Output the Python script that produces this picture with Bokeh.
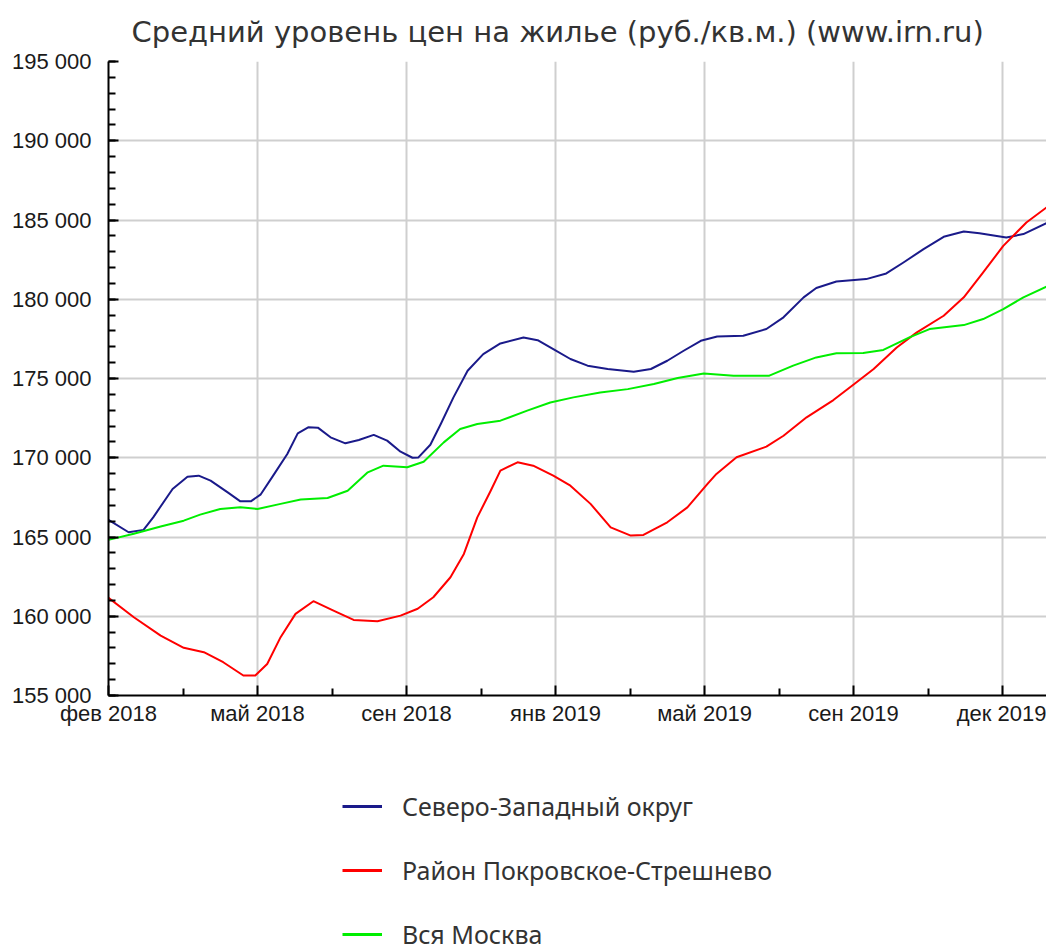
from bokeh.plotting import figure
from bokeh.models import Range1d, FixedTicker, Legend, LegendItem
from bokeh.layouts import column
from bokeh.embed import file_html
from bokeh.resources import INLINE

# ---- data (x in axis-step units: 0 = "фев 2018", each major tick = 2 units) ----
x_nw = [0, 0.27, 0.47, 0.60, 0.86, 1.06, 1.21, 1.37, 1.60, 1.77, 1.91, 2.04, 2.21, 2.40, 2.54,
        2.68, 2.81, 2.98, 3.18, 3.36, 3.56, 3.74, 3.92, 4.08, 4.16, 4.32, 4.46, 4.63, 4.82,
        5.03, 5.26, 5.57, 5.76, 5.97, 6.20, 6.43, 6.70, 7.05, 7.28, 7.50, 7.72, 7.95, 8.17,
        8.52, 8.83, 9.06, 9.33, 9.50, 9.77, 10.17, 10.44, 10.67, 10.94, 11.21, 11.48, 11.69,
        12.05, 12.28, 12.59]
y_nw = [166080, 165300, 165450, 166240, 168030, 168800, 168870, 168560, 167820, 167250, 167250,
        167670, 168870, 170240, 171540, 171920, 171900, 171290, 170910, 171120, 171440, 171080,
        170380, 170000, 170020, 170820, 172130, 173810, 175490, 176540, 177210, 177590, 177420,
        176860, 176230, 175810, 175600, 175430, 175600, 176120, 176750, 177380, 177650, 177700,
        178120, 178860, 180120, 180710, 181120, 181270, 181630, 182320, 183160, 183940, 184270,
        184170, 183900, 184110, 184800]

x_ps = [0, 0.34, 0.70, 1.01, 1.28, 1.54, 1.81, 1.97, 2.13, 2.31, 2.51, 2.75, 3.02, 3.29, 3.61,
        3.92, 4.15, 4.36, 4.59, 4.77, 4.95, 5.13, 5.26, 5.49, 5.70, 5.97, 6.20, 6.47, 6.74,
        7.01, 7.18, 7.50, 7.77, 8.04, 8.16, 8.43, 8.83, 9.06, 9.37, 9.73, 10.01, 10.27, 10.58,
        10.85, 11.21, 11.48, 11.74, 12.01, 12.32, 12.59]
y_ps = [161160, 159940, 158780, 158010, 157730, 157100, 156260, 156260, 156990, 158680, 160150,
        160950, 160360, 159770, 159690, 160040, 160470, 161200, 162460, 163930, 166240, 167920,
        169190, 169710, 169500, 168870, 168240, 167090, 165610, 165090, 165130, 165930, 166870,
        168350, 168980, 170030, 170700, 171390, 172550, 173640, 174650, 175600, 176960, 177910,
        178960, 180120, 181690, 183370, 184840, 185790]

x_msk = [0, 0.34, 0.70, 1.01, 1.23, 1.50, 1.77, 2.00, 2.31, 2.58, 2.94, 3.21, 3.48, 3.69, 4.01,
         4.23, 4.50, 4.72, 4.95, 5.26, 5.62, 5.93, 6.24, 6.60, 6.97, 7.32, 7.64, 7.99, 8.39,
         8.87, 9.19, 9.50, 9.77, 10.13, 10.40, 10.75, 11.02, 11.48, 11.74, 12.01, 12.28, 12.59]
y_msk = [164820, 165200, 165660, 166030, 166410, 166770, 166870, 166770, 167090, 167360, 167460,
         167920, 169080, 169500, 169400, 169750, 170970, 171810, 172130, 172340, 172970, 173490,
         173810, 174120, 174330, 174650, 175030, 175320, 175180, 175180, 175810, 176330, 176590,
         176610, 176800, 177590, 178120, 178370, 178750, 179380, 180120, 180790]

series_names = ["Северо-Западный округ", "Район Покровское-Стрешнево", "Вся Москва"]
series_colors = ["#1a1a8a", "#ff0000", "#00ee00"]

x_tick_pos = [0, 2, 4, 6, 8, 10, 12]
x_tick_labels = ["фев 2018", "май 2018", "сен 2018", "янв 2019", "май 2019", "сен 2019", "дек 2019"]
x_minor_pos = [1, 3, 5, 7, 9, 11]
y_ticks = [155000, 160000, 165000, 170000, 175000, 180000, 185000, 190000, 195000]
y_tick_labels = ["155 000", "160 000", "165 000", "170 000", "175 000", "180 000", "185 000",
                 "190 000", "195 000"]
y_minor = list(range(155000, 195001, 1000))

title_text = "Средний уровень цен на жилье (руб./кв.м.) (www.irn.ru)"

series = [(x_nw, y_nw), (x_ps, y_ps), (x_msk, y_msk)]

# ---- chart figure ----
p = figure(width=1046, height=740, output_backend="svg", toolbar_location=None,
           x_range=Range1d(0, 12.59), y_range=Range1d(155000, 195000),
           min_border_left=108, min_border_right=0, min_border_top=60, min_border_bottom=45)
p.outline_line_color = None
p.background_fill_color = "white"
p.border_fill_color = "white"

p.title.text = title_text
p.title.text_font = "DejaVu Sans"
p.title.text_font_size = "29px"
p.title.text_font_style = "normal"
p.title.text_color = "#333333"
p.title.align = "left"
p.title.offset = 23
p.title.standoff = 25

xa = p.xaxis[0]
xa.ticker = FixedTicker(ticks=x_tick_pos, minor_ticks=x_minor_pos)
xa.major_label_overrides = {t: l for t, l in zip(x_tick_pos, x_tick_labels)}
ya = p.yaxis[0]
ya.ticker = FixedTicker(ticks=y_ticks, minor_ticks=y_minor)
ya.major_label_overrides = {t: l for t, l in zip(y_ticks, y_tick_labels)}

for ax in (xa, ya):
    ax.axis_line_color = "black"
    ax.axis_line_width = 2
    ax.major_tick_line_color = "black"
    ax.major_tick_line_width = 2
    ax.minor_tick_line_color = "black"
    ax.minor_tick_line_width = 2
    ax.major_tick_in = 10
    ax.major_tick_out = 0
    ax.minor_tick_in = 7
    ax.minor_tick_out = 0
    ax.major_label_text_font = "Liberation Sans"
    ax.major_label_text_font_size = "22px"
    ax.major_label_text_color = "#1a1a1a"
ya.major_label_standoff = 17
xa.major_label_standoff = 5

p.xgrid.grid_line_color = "#cfcfcf"
p.xgrid.grid_line_width = 2
p.ygrid.grid_line_color = "#cfcfcf"
p.ygrid.grid_line_width = 2
p.xgrid.ticker = FixedTicker(ticks=x_tick_pos)
p.ygrid.ticker = FixedTicker(ticks=y_ticks)

for (xs, ys), c in zip(series, series_colors):
    p.line(xs, ys, line_color=c, line_width=2, line_join="round")

# ---- legend figure (below the chart); series drawn outside its visible range ----
lg = figure(width=1046, height=207, output_backend="svg", toolbar_location=None,
            x_range=Range1d(0, 1), y_range=Range1d(0, 1),
            x_axis_type=None, y_axis_type=None,
            min_border_left=108, min_border_right=0, min_border_top=0, min_border_bottom=0)
lg.outline_line_color = None
lg.grid.visible = False
lg.border_fill_color = "white"
lg.background_fill_color = "white"

legend_renderers = [lg.line(xs, ys, line_color=c, line_width=3)
                    for (xs, ys), c in zip(series, series_colors)]
legend = Legend(items=[LegendItem(label=n, renderers=[r])
                       for n, r in zip(series_names, legend_renderers)],
                location=(234, -4), orientation="vertical",
                glyph_width=40, glyph_height=24, label_height=24, spacing=30,
                padding=0, label_standoff=20, margin=0,
                border_line_color=None, background_fill_alpha=0,
                label_text_font="Noto Sans", label_text_font_size="25px",
                label_text_color="#333333")
lg.add_layout(legend)

open("out.html", "w").write(file_html(column(p, lg, spacing=0), INLINE))
